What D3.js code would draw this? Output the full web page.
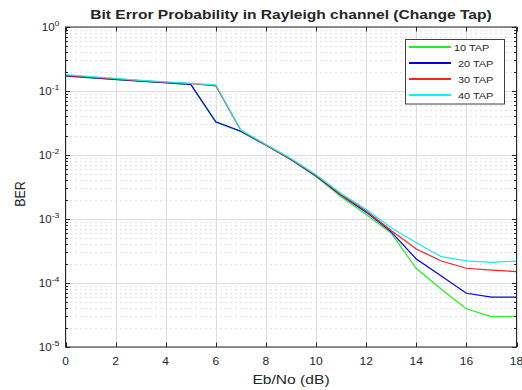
<!DOCTYPE html>
<html><head><meta charset="utf-8">
<script src="https://cdn.jsdelivr.net/npm/d3@7"></script>
<style>
body{margin:0;background:#fff;}
text{font-family:"Liberation Sans",Arial,sans-serif;fill:#262626;}
</style></head>
<body><svg id="c" width="522" height="390"></svg>
<script>
const ebno = [0,1,2,3,4,5,6,7,8,9,10,11,12,13,14,15,16,17,18];
const tap10 = [0.170,0.160,0.151,0.142,0.134,0.126,0.0325,0.0232,0.0142,0.0084,0.0046,0.00222,0.00118,0.00060,0.000168,0.0000800,0.0000395,0.0000298,0.0000300];
const tap20 = [0.172,0.162,0.152,0.143,0.135,0.127,0.0330,0.0235,0.0143,0.0085,0.0047,0.00235,0.00128,0.00063,0.000237,0.000129,0.0000692,0.0000600,0.0000600];
const tap30 = [0.176,0.165,0.155,0.145,0.137,0.130,0.120,0.0240,0.0144,0.0086,0.0048,0.00240,0.00135,0.00066,0.00034,0.000221,0.000170,0.000159,0.000151];
const tap40 = [0.180,0.168,0.157,0.147,0.139,0.132,0.125,0.0245,0.0146,0.0088,0.0049,0.00250,0.00141,0.00073,0.000427,0.000258,0.000221,0.000210,0.000220];
const seriesNames = ["10 TAP","20 TAP","30 TAP","40 TAP"];
const seriesColors = ["#22ee22","#0000e6","#ff2020","#10f0f0"];
const xTicks = [0,2,4,6,8,10,12,14,16,18];
const yExps = [0,-1,-2,-3,-4,-5];
const titleText = "Bit Error Probability in Rayleigh channel (Change Tap)";
const xLabel = "Eb/No (dB)";
const yLabel = "BER";

const series = [tap10,tap20,tap30,tap40];
const L=65.5,R=516.5,T=27,B=347;
const svg=d3.select("#c");
const x=d3.scaleLinear().domain([0,18]).range([L,R]);
const y=d3.scaleLog().domain([1e-5,1]).range([B,T]);

const g=svg.append("g");
const minors=[];
for(let e=-5;e<0;e++){for(let m=2;m<=9;m++)minors.push(m*Math.pow(10,e));}
g.selectAll("line.mg").data(minors).join("line").attr("class","mg").attr("x1",L).attr("x2",R)
 .attr("y1",d=>Math.round(y(d))+0.5).attr("y2",d=>Math.round(y(d))+0.5)
 .attr("stroke","#c4c4c4").attr("stroke-dasharray","1,4").attr("stroke-width",1);
g.selectAll("line.gx").data(xTicks).join("line").attr("class","gx").attr("x1",d=>Math.round(x(d))+0.5).attr("x2",d=>Math.round(x(d))+0.5)
 .attr("y1",T).attr("y2",B).attr("stroke","#dedede");
g.selectAll("line.gy").data(yExps).join("line").attr("class","gy").attr("y1",d=>Math.round(y(Math.pow(10,d)))+0.5).attr("y2",d=>Math.round(y(Math.pow(10,d)))+0.5)
 .attr("x1",L).attr("x2",R).attr("stroke","#dedede");

const line=d3.line().x((d,i)=>x(ebno[i])).y(d=>y(d));
series.forEach((s,k)=>{
  svg.append("path").datum(s).attr("d",line).attr("fill","none")
   .attr("stroke",seriesColors[k]).attr("stroke-width",1.2);
});

const ax=svg.append("g");
ax.append("rect").attr("x",L).attr("y",T).attr("width",R-L).attr("height",B-T)
 .attr("fill","none").attr("stroke","#262626").attr("stroke-width",1);
xTicks.forEach(t=>{
  const px=Math.round(x(t))+0.5;
  ax.append("line").attr("x1",px).attr("x2",px).attr("y1",B).attr("y2",B-4.5).attr("stroke","#262626");
  ax.append("line").attr("x1",px).attr("x2",px).attr("y1",T).attr("y2",T+4.5).attr("stroke","#262626");
});
yExps.forEach(e=>{
  const py=Math.round(y(Math.pow(10,e)))+0.5;
  ax.append("line").attr("x1",L).attr("x2",L+4.5).attr("y1",py).attr("y2",py).attr("stroke","#262626");
  ax.append("line").attr("x1",R).attr("x2",R-4.5).attr("y1",py).attr("y2",py).attr("stroke","#262626");
});
minors.forEach(v=>{
  const py=Math.round(y(v))+0.5;
  ax.append("line").attr("x1",L).attr("x2",L+2.5).attr("y1",py).attr("y2",py).attr("stroke","#262626");
  ax.append("line").attr("x1",R).attr("x2",R-2.5).attr("y1",py).attr("y2",py).attr("stroke","#262626");
});

function txt(parent,xx,yy,s,size,anchor,sx,weight){
  return parent.append("text").attr("transform",`translate(${xx},${yy}) scale(${sx},1)`)
   .attr("text-anchor",anchor).attr("font-size",size).attr("font-weight",weight||"normal").text(s);
}
xTicks.forEach(t=>txt(svg,x(t),365,String(t),10.5,"middle",1.15));
yExps.forEach(e=>{
  const t=svg.append("text").attr("transform",`translate(${L-6},${y(Math.pow(10,e))+4}) scale(1.1,1)`)
   .attr("text-anchor","end").attr("font-size",10.5);
  t.append("tspan").text("10");
  t.append("tspan").attr("dy",-5).attr("font-size",8).text(String(e));
});
txt(svg,(L+R)/2,18.5,titleText,13,"middle",1.2,"bold");
txt(svg,(L+R)/2,384,xLabel,12.5,"middle",1.25);
svg.append("text").attr("transform",`translate(25,194) rotate(-90) scale(1,1.2)`)
 .attr("text-anchor","middle").attr("font-size",12.5).text(yLabel);

const lg=svg.append("g");
lg.append("rect").attr("x",405.5).attr("y",39.5).attr("width",99).attr("height",64.5)
 .attr("fill","#fff").attr("stroke","#404040").attr("stroke-width",1);
const rowY=[47,63,79,95];
seriesNames.forEach((n,k)=>{
  lg.append("rect").attr("x",409).attr("width",42).attr("y",rowY[k]-1).attr("height",2)
   .attr("fill",seriesColors[k]);
  txt(lg,k==0?454:458,rowY[k]+3.5,n,9.5,"start",1.15);
});
</script></body></html>
